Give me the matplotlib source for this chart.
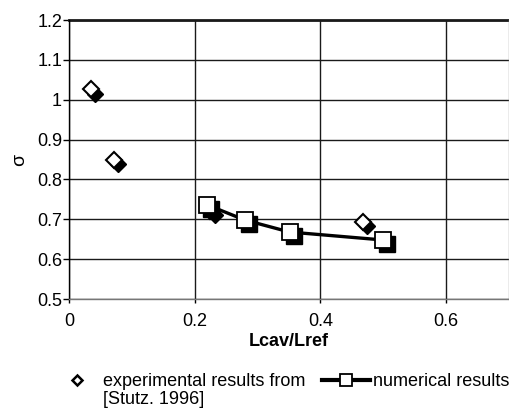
import matplotlib
matplotlib.use("Agg")
import matplotlib.pyplot as plt
from matplotlib.transforms import ScaledTranslation
from matplotlib.lines import Line2D

plt.rcParams['font.family'] = ['Liberation Sans', 'DejaVu Sans']

# experimental points (Stutz 1996) and computed cavity lengths
exp_x = [0.035, 0.071, 0.225, 0.467]
exp_y = [1.026, 0.85, 0.722, 0.694]
num_x = [0.220, 0.280, 0.351, 0.500]
num_y = [0.736, 0.698, 0.668, 0.648]

xticks = [0, 0.2, 0.4, 0.6]
yticks = [0.5, 0.6, 0.7, 0.8, 0.9, 1.0, 1.1, 1.2]
ytick_labels = ['0.5', '0.6', '0.7', '0.8', '0.9', '1', '1.1', '1.2']

fig = plt.figure(figsize=(5.1, 4.09), dpi=100)
ax = fig.add_axes([69/510, 1-299/409, 440/510, 279/409])

# black drop shadow a few pixels right/down of each marker
shadow = ax.transData + ScaledTranslation(3/72, -3/72, fig.dpi_scale_trans)

ax.plot(exp_x, exp_y, 'D', ms=8, color='black', transform=shadow, zorder=3)
ax.plot(exp_x, exp_y, 'D', ms=8, mfc='white', mec='black', mew=1.5, zorder=4)

ax.plot(num_x, num_y, '-', lw=2.4, color='black', zorder=5)
ax.plot(num_x, num_y, 's', ms=11, color='black', transform=shadow, zorder=6)
ax.plot(num_x, num_y, 's', ms=11, mfc='white', mec='black', mew=1.3, zorder=7)

ax.set_xlim(0, 0.7)
ax.set_ylim(0.5, 1.2)
ax.set_xticks(xticks)
ax.set_xticklabels(['0', '0.2', '0.4', '0.6'])
ax.set_yticks(yticks)
ax.set_yticklabels(ytick_labels)

ax.grid(True, color='#1a1a1a', lw=1.0)
ax.set_axisbelow(True)
for s in ['top', 'right']:
    ax.spines[s].set_visible(False)
ax.axhline(1.2, color='#1a1a1a', lw=2.0, clip_on=False)
ax.axvline(0.7, color='#999999', lw=1.0, clip_on=False)
ax.spines['left'].set_color('black')
ax.spines['left'].set_linewidth(1.0)
ax.spines['bottom'].set_color('#777777')
ax.spines['bottom'].set_linewidth(1.0)

ax.tick_params(axis='y', direction='out', length=4, width=1, pad=1, labelsize=13)
ax.tick_params(axis='x', direction='out', length=3, width=1, pad=7, labelsize=13)

ax.set_xlabel('Lcav/Lref', fontsize=13, fontweight='bold', labelpad=2)
ax.set_ylabel('σ', fontsize=14, labelpad=6)

# legend, two entries side by side below the axes
h1 = Line2D([], [], ls='none', marker='D', ms=5.5, mfc='white', mec='black', mew=1.8)
h2 = Line2D([], [], color='black', lw=3, marker='s', ms=8, mfc='white', mec='black', mew=1.3)
fig.legend([h1], ['experimental results from'], loc='center left',
           bbox_to_anchor=(59/510, 1-382/409), frameon=False, fontsize=13,
           handlelength=2.0, handletextpad=0.44, borderpad=0, borderaxespad=0)
fig.text(103/510, 1-400/409, '[Stutz. 1996]', fontsize=13, va='center', ha='left')
fig.legend([h2], ['numerical results'], loc='center left',
           bbox_to_anchor=(322/510, 1-382/409), frameon=False, fontsize=13,
           handlelength=2.67, handletextpad=0.17, borderpad=0, borderaxespad=0)

fig.savefig('out.png', dpi=100)
